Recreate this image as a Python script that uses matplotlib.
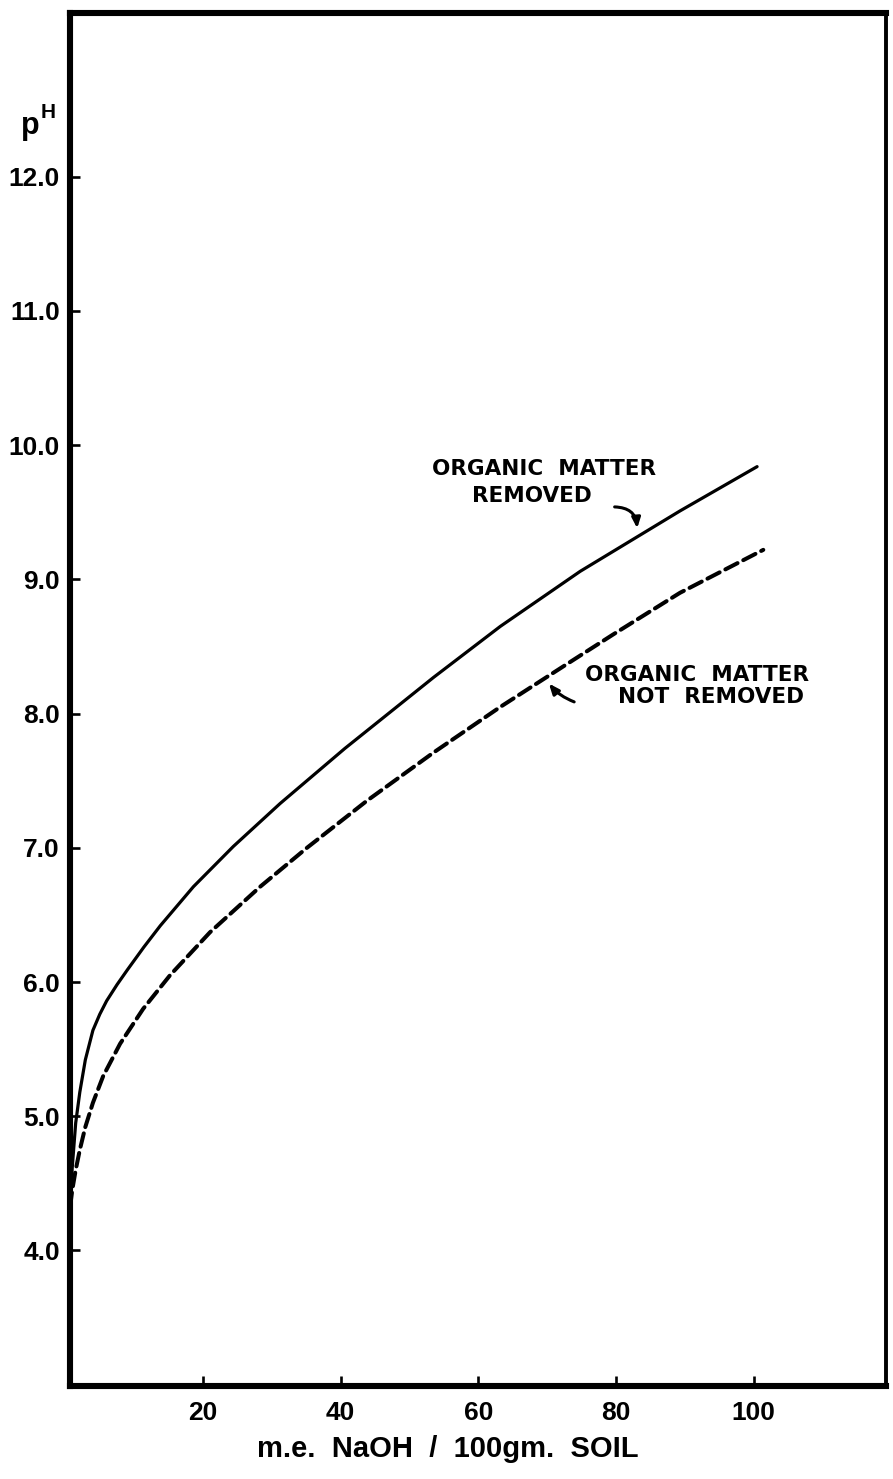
import matplotlib
matplotlib.use("Agg")
import matplotlib.pyplot as plt

# ---- data ----
removed_x = [0.7, 1.0, 1.5, 2.1, 2.9, 4.0, 5.0, 6.0, 7.5, 9.0, 11.4, 13.8, 18.6, 24.4,
             31.2, 40.6, 53.5, 63.2, 74.8, 89.3, 100.5]
removed_ph = [4.36, 4.62, 4.95, 5.18, 5.42, 5.64, 5.76, 5.86, 5.98, 6.09, 6.26, 6.42, 6.71,
              7.01, 7.33, 7.74, 8.27, 8.65, 9.06, 9.51, 9.84]

not_removed_x = [0.7, 1.0, 1.5, 2.1, 2.9, 4.0, 5.5, 7.95, 11.3, 15.2, 21.0, 28.3, 35.1,
                 43.8, 53.5, 63.2, 72.9, 79.6, 89.3, 101.4]
not_removed_ph = [4.33, 4.45, 4.60, 4.75, 4.92, 5.10, 5.30, 5.54, 5.80, 6.05, 6.37, 6.71, 7.00,
                  7.35, 7.71, 8.05, 8.37, 8.59, 8.90, 9.22]

x_ticks = [20, 40, 60, 80, 100]
x_tick_labels = ["20", "40", "60", "80", "100"]
y_ticks = [4, 5, 6, 7, 8, 9, 10, 11, 12]
y_tick_labels = ["4.0", "5.0", "6.0", "7.0", "8.0", "9.0", "10.0", "11.0", "12.0"]

FONT = ["Liberation Sans", "DejaVu Sans"]
ANN_FONT = ["DejaVu Sans"]

W, H = 893, 1479
fig = plt.figure(figsize=(W / 100, H / 100), dpi=100)
left, right, bottom, top = 69.5, 885.8, 1386, 13
ax = fig.add_axes([left / W, (H - bottom) / H, (right - left) / W, (bottom - top) / H])

ax.plot(removed_x, removed_ph, color="black", lw=2.3, solid_capstyle="round",
        solid_joinstyle="round")
ax.plot(not_removed_x, not_removed_ph, color="black", lw=2.9,
        linestyle=(0, (3.4, 1.6)), dash_capstyle="round", dash_joinstyle="round")

ax.set_xlim(0.6, 119.2)
ax.set_ylim(2.99, 13.22)

for side in ["left", "bottom", "top"]:
    ax.spines[side].set_linewidth(4.4)
ax.spines["right"].set_linewidth(2.8)

ax.set_xticks(x_ticks)
ax.set_xticklabels(x_tick_labels)
ax.set_yticks(y_ticks)
ax.set_yticklabels(y_tick_labels)
ax.tick_params(axis="both", direction="in", length=7.5, width=1.9, color="black")
ax.tick_params(axis="y", pad=7)
ax.tick_params(axis="x", pad=11)
for lab in ax.get_xticklabels() + ax.get_yticklabels():
    lab.set_family(FONT)
    lab.set_fontweight("bold")
    lab.set_fontsize(19)

# axis titles
fig.text(448 / W, 1 - 1449 / H, "m.e.  NaOH  /  100gm.  SOIL", ha="center", va="center",
         family=FONT, fontweight="bold", fontsize=21)
fig.text(30 / W, 1 - 126 / H, "p", ha="center", va="center",
         family=FONT, fontweight="bold", fontsize=22)
fig.text(48 / W, 1 - 113 / H, "H", ha="center", va="center",
         family=FONT, fontweight="bold", fontsize=15)

# annotations
kw = dict(ha="center", va="center", family=ANN_FONT, fontweight="bold", fontsize=15.5)
ax.text(69.5, 9.82, "ORGANIC  MATTER", **kw)
ax.text(67.8, 9.62, "REMOVED", **kw)
ax.text(91.8, 8.29, "ORGANIC  MATTER", **kw)
ax.text(93.8, 8.12, "NOT  REMOVED", **kw)

ax.annotate("", xy=(83.1, 9.36), xytext=(79.4, 9.54),
            arrowprops=dict(arrowstyle="-|>,head_length=0.6,head_width=0.25",
                            color="black", lw=2.2,
                            connectionstyle="arc3,rad=-0.5"))
ax.annotate("", xy=(70.0, 8.24), xytext=(74.3, 8.08),
            arrowprops=dict(arrowstyle="-|>,head_length=0.6,head_width=0.25",
                            color="black", lw=2.2,
                            connectionstyle="arc3,rad=-0.15"))

fig.savefig("out.png", dpi=100, facecolor="white")
